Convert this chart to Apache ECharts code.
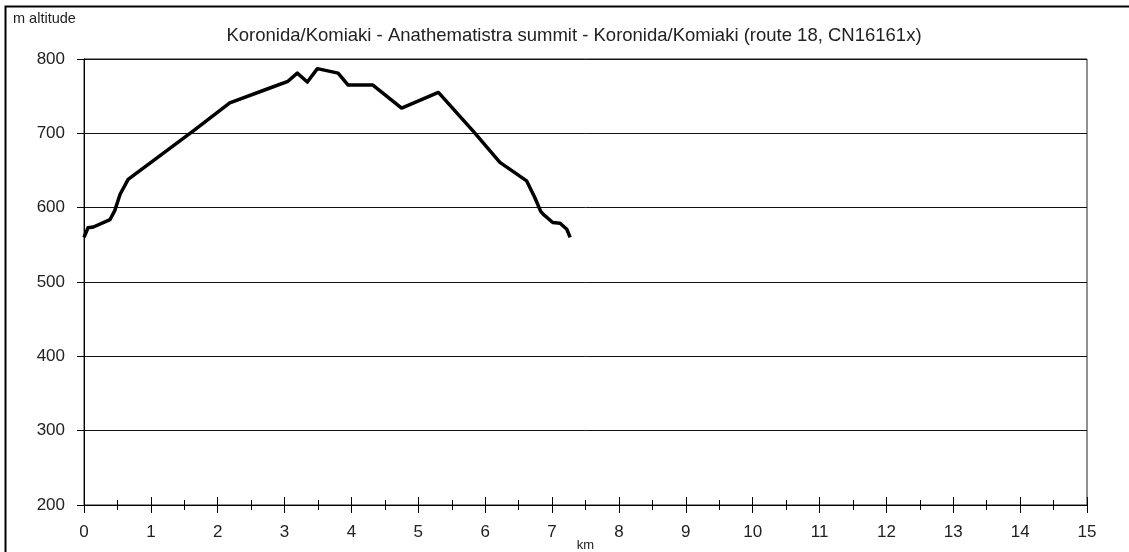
<!DOCTYPE html>
<html>
<head>
<meta charset="utf-8">
<title>Koronida/Komiaki elevation profile</title>
<script src="https://cdn.jsdelivr.net/npm/echarts@6/dist/echarts.min.js"></script>
<style>
  html, body { margin: 0; padding: 0; background: #fff; }
  #main { width: 1129px; height: 552px; }
</style>
</head>
<body>
<div id="main"></div>
<script>
// distance along the route (km) and altitude (m)
var distKm = [0, 0.06, 0.14, 0.39, 0.46, 0.54, 0.66, 1.63, 2.18, 2.78, 3.05, 3.19, 3.34, 3.49, 3.80, 3.95, 4.32, 4.75, 5.30, 5.82, 6.22, 6.62, 6.74, 6.83, 6.87, 7.01, 7.12, 7.22, 7.27];
var altitude = [560, 573, 574, 584, 596, 618, 638, 703, 741, 761, 770, 781, 769, 787, 781, 765, 765, 734, 755, 703, 661, 636, 614, 595, 591, 580, 579, 571, 560];

var title = "Koronida/Komiaki - Anathematistra summit - Koronida/Komiaki (route 18, CN16161x)";

var points = distKm.map(function (d, i) { return [d, altitude[i]]; });

var chart = echarts.init(document.getElementById("main"));

var font = "Liberation Sans, Arial, sans-serif";

var option = {
  animation: false,
  backgroundColor: "#fff",
  textStyle: { fontFamily: font },
  title: {
    text: title,
    left: 569,
    textAlign: "center",
    top: 21,
    textStyle: { fontSize: 18.5, fontWeight: "normal", color: "#222", fontFamily: font }
  },
  graphic: [
    {
      type: "rect",
      shape: { x: 5.5, y: 6.5, width: 1140, height: 560 },
      style: { fill: null, stroke: "#000", lineWidth: 2 }
    },
    {
      type: "text",
      left: 13,
      top: 11,
      style: { text: "m altitude", fontSize: 14.5, fill: "#222", fontFamily: font }
    }
  ],
  grid: {
    left: 84, right: 42, top: 59, bottom: 47,
    containLabel: false,
    outerBoundsMode: "none",
    show: true, borderColor: "#222", borderWidth: 1
  },
  xAxis: [
    {
      type: "value",
      min: 0,
      max: 15,
      interval: 1,
      name: "km",
      nameLocation: "middle",
      nameGap: 34,
      nameMoveOverlap: false,
      nameTextStyle: { fontSize: 13, color: "#222" },
      axisLine: { show: true, onZero: false, lineStyle: { color: "#000", width: 1 } },
      axisTick: { show: true, length: 8, lineStyle: { color: "#000" } },
      minorTick: { show: true, splitNumber: 2, length: 5, lineStyle: { color: "#000" } },
      axisLabel: { fontSize: 17, color: "#222", margin: 19 },
      splitLine: { show: false }
    },
    {
      type: "value",
      min: 0,
      max: 15,
      interval: 1,
      position: "bottom",
      axisLine: { show: false, onZero: false },
      axisTick: { show: true, inside: true, length: 8, lineStyle: { color: "#000" } },
      minorTick: { show: true, splitNumber: 2, length: 5, lineStyle: { color: "#000" } },
      axisLabel: { show: false },
      splitLine: { show: false }
    }
  ],
  yAxis: {
    type: "value",
    min: 200,
    max: 800,
    interval: 100,
    axisLine: { show: true, lineStyle: { color: "#000", width: 1 } },
    axisTick: { show: true, length: 7, lineStyle: { color: "#000" } },
    axisLabel: { fontSize: 17, color: "#222", margin: 19 },
    splitLine: { show: true, lineStyle: { color: "#111", width: 1 } }
  },
  series: [
    {
      type: "line",
      data: points,
      symbol: "none",
      lineStyle: { color: "#000", width: 3.5, join: "round" }
    }
  ]
};

chart.setOption(option);
</script>
</body>
</html>
